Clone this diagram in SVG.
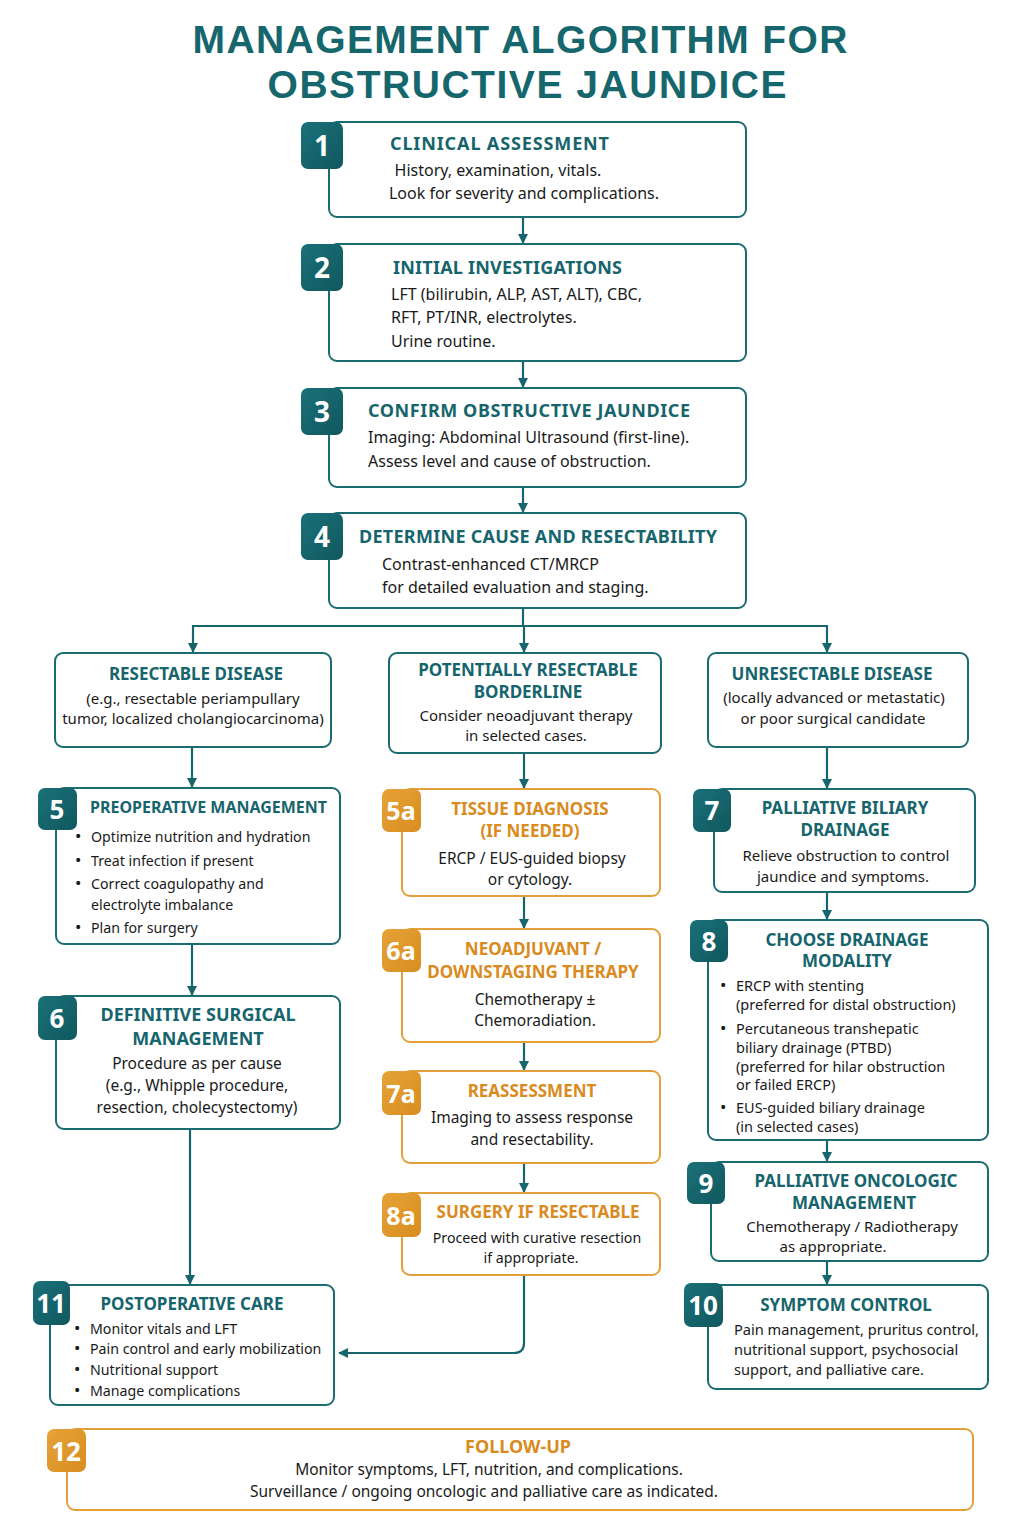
<svg xmlns="http://www.w3.org/2000/svg" width="1024" height="1536" viewBox="0 0 1024 1536">
<defs>
<marker id="arr" viewBox="0 0 10 10" refX="9" refY="5" markerWidth="10" markerHeight="10" markerUnits="userSpaceOnUse" orient="auto">
<path d="M0,0 L10,5 L0,10 z" fill="#17656d"/>
</marker>
<linearGradient id="tg" x1="0" y1="0" x2="1" y2="1">
<stop offset="0" stop-color="#1b7078"/><stop offset="1" stop-color="#10585f"/>
</linearGradient>
<linearGradient id="og" x1="0" y1="0" x2="1" y2="1">
<stop offset="0" stop-color="#e6a338"/><stop offset="1" stop-color="#d88d1f"/>
</linearGradient>
</defs>
<style>
.bx{fill:#fff;stroke:#1b6b72;stroke-width:2}
.bo{fill:#fff;stroke:#e3a03a;stroke-width:2}
.bt{fill:url(#tg)}
.bor{fill:url(#og)}
.num{font-family:"Noto Sans",sans-serif;font-weight:700;font-size:28px;fill:#fff;text-anchor:middle}
.tt{font-family:"Noto Sans",sans-serif;font-weight:700;font-size:18px;fill:#16656d}
.to{font-family:"Noto Sans",sans-serif;font-weight:700;font-size:18px;fill:#d98b1e}
.b{font-family:"Noto Sans",sans-serif;font-size:16px;fill:#1a1a1a}
.s{font-family:"Noto Sans",sans-serif;font-size:14.2px;fill:#1a1a1a}
.d{font-size:17px}
.m{text-anchor:middle}
.ln{fill:none;stroke:#17656d;stroke-width:2.2}
</style>
<rect width="1024" height="1536" fill="#fff"/>
<g id="title" font-family="Liberation Sans, Arial, sans-serif" font-weight="700" font-size="39" fill="#16666d" text-anchor="middle">
<text x="520" y="53" textLength="655" lengthAdjust="spacing">MANAGEMENT ALGORITHM FOR</text>
<text x="527" y="98" textLength="519" lengthAdjust="spacing">OBSTRUCTIVE JAUNDICE</text>
</g>

<g id="connectors">
<path class="ln" d="M523,217 V243" marker-end="url(#arr)"/>
<path class="ln" d="M523,361 V387" marker-end="url(#arr)"/>
<path class="ln" d="M523,487 V512" marker-end="url(#arr)"/>
<path class="ln" d="M523,608 V626"/>
<path class="ln" d="M193,626 H827"/>
<path class="ln" d="M193,625 V652" marker-end="url(#arr)"/>
<path class="ln" d="M524,626 V652" marker-end="url(#arr)"/>
<path class="ln" d="M827,625 V652" marker-end="url(#arr)"/>
<path class="ln" d="M192,747 V787" marker-end="url(#arr)"/>
<path class="ln" d="M192,944 V995" marker-end="url(#arr)"/>
<path class="ln" d="M190,1129 V1284" marker-end="url(#arr)"/>
<path class="ln" d="M524,753 V788" marker-end="url(#arr)"/>
<path class="ln" d="M524,896 V928" marker-end="url(#arr)"/>
<path class="ln" d="M524,1042 V1070" marker-end="url(#arr)"/>
<path class="ln" d="M524,1163 V1192" marker-end="url(#arr)"/>
<path class="ln" d="M524,1275 V1343 Q524,1353 514,1353 H339" marker-end="url(#arr)"/>
<path class="ln" d="M827,747 V788" marker-end="url(#arr)"/>
<path class="ln" d="M827,892 V919" marker-end="url(#arr)"/>
<path class="ln" d="M827,1140 V1161" marker-end="url(#arr)"/>
<path class="ln" d="M827,1261 V1284" marker-end="url(#arr)"/>
</g>

<g id="n1">
<rect class="bx" x="329" y="122" width="417" height="95" rx="8"/>
<rect class="bt" x="301" y="122" width="42" height="47" rx="7"/>
<text class="num" x="322" y="156">1</text>
<text class="tt" x="390" y="150" textLength="219">CLINICAL ASSESSMENT</text>
<text class="b m" x="498" y="176">History, examination, vitals.</text>
<text class="b m" x="524" y="199">Look for severity and complications.</text>
</g>

<g id="n2">
<rect class="bx" x="329" y="244" width="417" height="117" rx="8"/>
<rect class="bt" x="301" y="244" width="42" height="47" rx="7"/>
<text class="num" x="322" y="278">2</text>
<text class="tt" x="393" y="274" textLength="229">INITIAL INVESTIGATIONS</text>
<text class="b" x="391" y="300">LFT (bilirubin, ALP, AST, ALT), CBC,</text>
<text class="b" x="391" y="323">RFT, PT/INR, electrolytes.</text>
<text class="b" x="391" y="347">Urine routine.</text>
</g>

<g id="n3">
<rect class="bx" x="329" y="388" width="417" height="99" rx="8"/>
<rect class="bt" x="301" y="388" width="42" height="47" rx="7"/>
<text class="num" x="322" y="422">3</text>
<text class="tt" x="368" y="417" textLength="322">CONFIRM OBSTRUCTIVE JAUNDICE</text>
<text class="b" x="368" y="443">Imaging: Abdominal Ultrasound (first-line).</text>
<text class="b" x="368" y="467">Assess level and cause of obstruction.</text>
</g>

<g id="n4">
<rect class="bx" x="329" y="513" width="417" height="95" rx="8"/>
<rect class="bt" x="301" y="513" width="42" height="47" rx="7"/>
<text class="num" x="322" y="547">4</text>
<text class="tt" x="359" y="543" textLength="358">DETERMINE CAUSE AND RESECTABILITY</text>
<text class="b" x="382" y="570">Contrast-enhanced CT/MRCP</text>
<text class="b" x="382" y="593">for detailed evaluation and staging.</text>
</g>

<g id="resectable">
<rect class="bx" x="55" y="653" width="276" height="94" rx="8"/>
<text class="tt m" x="196" y="680" style="font-size:17px">RESECTABLE DISEASE</text>
<text class="s m" x="193" y="704" style="font-size:15px">(e.g., resectable periampullary</text>
<text class="s m" x="193" y="724" style="font-size:15px">tumor, localized cholangiocarcinoma)</text>
</g>

<g id="borderline">
<rect class="bx" x="389" y="653" width="272" height="100" rx="8"/>
<text class="tt m" x="528" y="676" style="font-size:17px">POTENTIALLY RESECTABLE</text>
<text class="tt m" x="528" y="698" style="font-size:17px">BORDERLINE</text>
<text class="s m" x="526" y="721" style="font-size:15px">Consider neoadjuvant therapy</text>
<text class="s m" x="526" y="741" style="font-size:15px">in selected cases.</text>
</g>

<g id="unresectable">
<rect class="bx" x="708" y="653" width="260" height="94" rx="8"/>
<text class="tt m" x="832" y="680" style="font-size:17px">UNRESECTABLE DISEASE</text>
<text class="s m" x="834" y="703" style="font-size:15px">(locally advanced or metastatic)</text>
<text class="s m" x="833" y="724" style="font-size:15px">or poor surgical candidate</text>
</g>

<g id="n5">
<rect class="bx" x="56" y="788" width="284" height="156" rx="8"/>
<rect class="bt" x="38" y="788" width="39" height="42" rx="7"/>
<text class="num" x="57" y="819" style="font-size:26px">5</text>
<text class="tt" x="90" y="813" style="font-size:16.5px" textLength="237" lengthAdjust="spacingAndGlyphs">PREOPERATIVE MANAGEMENT</text>
<g class="s">
<text class="d" x="75" y="842">•</text><text x="91" y="842">Optimize nutrition and hydration</text>
<text class="d" x="75" y="866">•</text><text x="91" y="866">Treat infection if present</text>
<text class="d" x="75" y="889">•</text><text x="91" y="889">Correct coagulopathy and</text>
<text x="91" y="910">electrolyte imbalance</text>
<text class="d" x="75" y="933">•</text><text x="91" y="933">Plan for surgery</text>
</g>
</g>

<g id="n6">
<rect class="bx" x="56" y="996" width="284" height="133" rx="8"/>
<rect class="bt" x="38" y="996" width="39" height="44" rx="7"/>
<text class="num" x="57" y="1028" style="font-size:26px">6</text>
<text class="tt m" x="198" y="1021">DEFINITIVE SURGICAL</text>
<text class="tt m" x="198" y="1045">MANAGEMENT</text>
<text class="b m" x="197" y="1069" style="font-size:15.5px">Procedure as per cause</text>
<text class="b m" x="197" y="1091" style="font-size:15.5px">(e.g., Whipple procedure,</text>
<text class="b m" x="197" y="1113" style="font-size:15.5px">resection, cholecystectomy)</text>
</g>

<g id="n11">
<rect class="bx" x="50" y="1285" width="284" height="120" rx="8"/>
<rect class="bt" x="33" y="1281" width="37" height="44" rx="7"/>
<text class="num" x="51" y="1313" style="font-size:26px">11</text>
<text class="tt m" x="192" y="1310" style="font-size:17px">POSTOPERATIVE CARE</text>
<g class="s">
<text class="d" x="74" y="1334">•</text><text x="90" y="1334">Monitor vitals and LFT</text>
<text class="d" x="74" y="1354">•</text><text x="90" y="1354">Pain control and early mobilization</text>
<text class="d" x="74" y="1375">•</text><text x="90" y="1375">Nutritional support</text>
<text class="d" x="74" y="1396">•</text><text x="90" y="1396">Manage complications</text>
</g>
</g>

<g id="n5a">
<rect class="bo" x="402" y="789" width="258" height="107" rx="8"/>
<rect class="bor" x="382" y="789" width="39" height="43" rx="7"/>
<text class="num" x="401" y="820" style="font-size:25px">5a</text>
<text class="to m" x="530" y="815" style="font-size:17px">TISSUE DIAGNOSIS</text>
<text class="to m" x="530" y="837" style="font-size:17px">(IF NEEDED)</text>
<text class="b m" x="532" y="864" style="font-size:15.5px">ERCP / EUS-guided biopsy</text>
<text class="b m" x="530" y="885" style="font-size:15.5px">or cytology.</text>
</g>

<g id="n6a">
<rect class="bo" x="402" y="929" width="258" height="113" rx="8"/>
<rect class="bor" x="382" y="929" width="39" height="43" rx="7"/>
<text class="num" x="401" y="960" style="font-size:25px">6a</text>
<text class="to m" x="533" y="955" style="font-size:17px">NEOADJUVANT /</text>
<text class="to m" x="533" y="978" style="font-size:17px">DOWNSTAGING THERAPY</text>
<text class="b m" x="535" y="1005" style="font-size:15.5px">Chemotherapy ±</text>
<text class="b m" x="535" y="1026" style="font-size:15.5px">Chemoradiation.</text>
</g>

<g id="n7a">
<rect class="bo" x="402" y="1071" width="258" height="92" rx="8"/>
<rect class="bor" x="382" y="1071" width="39" height="44" rx="7"/>
<text class="num" x="401" y="1103" style="font-size:25px">7a</text>
<text class="to m" x="532" y="1097" style="font-size:17px">REASSESSMENT</text>
<text class="b m" x="532" y="1123" style="font-size:15.5px">Imaging to assess response</text>
<text class="b m" x="532" y="1145" style="font-size:15.5px">and resectability.</text>
</g>

<g id="n8a">
<rect class="bo" x="402" y="1193" width="258" height="82" rx="8"/>
<rect class="bor" x="382" y="1193" width="39" height="44" rx="7"/>
<text class="num" x="401" y="1225" style="font-size:25px">8a</text>
<text class="to m" x="538" y="1218" style="font-size:17px">SURGERY IF RESECTABLE</text>
<text class="s m" x="537" y="1243">Proceed with curative resection</text>
<text class="s m" x="531" y="1263">if appropriate.</text>
</g>

<g id="n7">
<rect class="bx" x="714" y="789" width="261" height="103" rx="8"/>
<rect class="bt" x="693" y="789" width="38" height="43" rx="7"/>
<text class="num" x="712" y="820" style="font-size:26px">7</text>
<text class="tt m" x="845" y="814" style="font-size:17px">PALLIATIVE BILIARY</text>
<text class="tt m" x="845" y="836" style="font-size:17px">DRAINAGE</text>
<text class="s m" x="846" y="861" style="font-size:15px">Relieve obstruction to control</text>
<text class="s m" x="843" y="882" style="font-size:15px">jaundice and symptoms.</text>
</g>

<g id="n8">
<rect class="bx" x="708" y="920" width="280" height="220" rx="8"/>
<rect class="bt" x="690" y="920" width="38" height="42" rx="7"/>
<text class="num" x="709" y="951" style="font-size:26px">8</text>
<text class="tt m" x="847" y="946" style="font-size:17px">CHOOSE DRAINAGE</text>
<text class="tt m" x="847" y="967" style="font-size:17px">MODALITY</text>
<g class="s" style="font-size:14.5px">
<text class="d" x="720" y="991">•</text><text x="736" y="991">ERCP with stenting</text>
<text x="736" y="1010">(preferred for distal obstruction)</text>
<text class="d" x="720" y="1034">•</text><text x="736" y="1034">Percutaneous transhepatic</text>
<text x="736" y="1053">biliary drainage (PTBD)</text>
<text x="736" y="1072">(preferred for hilar obstruction</text>
<text x="736" y="1090">or failed ERCP)</text>
<text class="d" x="720" y="1113">•</text><text x="736" y="1113">EUS-guided biliary drainage</text>
<text x="736" y="1132">(in selected cases)</text>
</g>
</g>

<g id="n9">
<rect class="bx" x="711" y="1162" width="277" height="99" rx="8"/>
<rect class="bt" x="687" y="1162" width="38" height="42" rx="7"/>
<text class="num" x="706" y="1193" style="font-size:26px">9</text>
<text class="tt m" x="856" y="1187" style="font-size:17px">PALLIATIVE ONCOLOGIC</text>
<text class="tt m" x="854" y="1209" style="font-size:17px">MANAGEMENT</text>
<text class="s m" x="852" y="1232" style="font-size:15px">Chemotherapy / Radiotherapy</text>
<text class="s m" x="833" y="1252" style="font-size:15px">as appropriate.</text>
</g>

<g id="n10">
<rect class="bx" x="708" y="1285" width="280" height="104" rx="8"/>
<rect class="bt" x="684" y="1283" width="39" height="44" rx="7"/>
<text class="num" x="703" y="1315" style="font-size:26px">10</text>
<text class="tt m" x="846" y="1311" style="font-size:17px">SYMPTOM CONTROL</text>
<text class="s" x="734" y="1335" style="font-size:14.6px">Pain management, pruritus control,</text>
<text class="s" x="734" y="1355" style="font-size:14.6px">nutritional support, psychosocial</text>
<text class="s" x="734" y="1375" style="font-size:14.6px">support, and palliative care.</text>
</g>

<g id="n12">
<rect class="bo" x="67" y="1429" width="906" height="81" rx="8"/>
<rect class="bor" x="47" y="1429" width="39" height="43" rx="7"/>
<text class="num" x="66" y="1461" style="font-size:26px">12</text>
<text class="to m" x="518" y="1453" style="font-size:18px">FOLLOW-UP</text>
<text class="b m" x="489" y="1475" style="font-size:15.5px">Monitor symptoms, LFT, nutrition, and complications.</text>
<text class="b m" x="484" y="1497" style="font-size:15.5px">Surveillance / ongoing oncologic and palliative care as indicated.</text>
</g>
</svg>
